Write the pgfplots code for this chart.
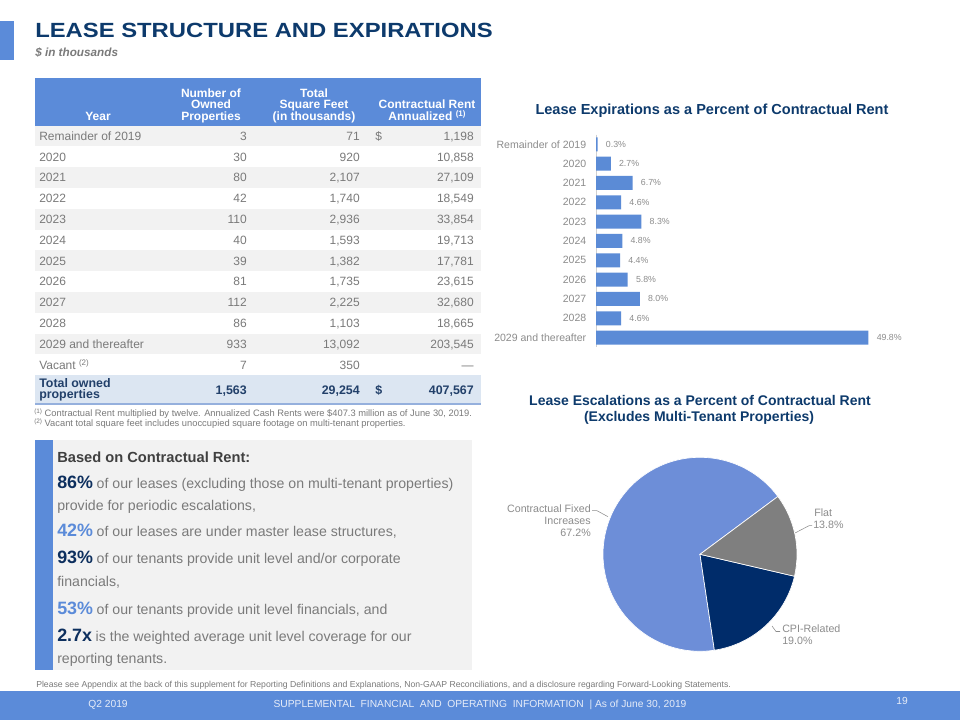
\documentclass[border=0pt]{standalone}
\usepackage{fontspec}
\setmainfont{Liberation Sans}
\newfontfamily\titlefont[FakeStretch=1.16]{Liberation Sans}
\usepackage{pgfplots}
\pgfplotsset{compat=1.18}
\definecolor{mainblue}{HTML}{5B8BD9}
\definecolor{barblue}{HTML}{5B8BD6}
\definecolor{piefixed}{HTML}{6D8ED8}
\definecolor{pienavy}{HTML}{002C6A}
\definecolor{piegray}{HTML}{7F7F7F}
\definecolor{titlenavy}{HTML}{0D3A6C}
\definecolor{tgray}{HTML}{7A7A7A}
\definecolor{lgray}{HTML}{8C8C8C}
\definecolor{rowgray}{HTML}{F2F2F2}
\definecolor{totalrow}{HTML}{DCE6F2}
\definecolor{totaltext}{HTML}{22406A}
\definecolor{dgray}{HTML}{404040}
\definecolor{bignavy}{HTML}{0D2F5E}
\definecolor{axisgray}{HTML}{D0D0D0}
\definecolor{foottext}{HTML}{E6ECF8}
\definecolor{tline}{HTML}{95B0DD}

\newcommand{\trow}[5]{%
  \pgfmathsetmacro\yc{136+20.8*#1}%
  \node[tb,anchor=west] at (39,\yc) {#2};%
  \node[tb,anchor=east] at (247,\yc) {#3};%
  \node[tb,anchor=east] at (360,\yc) {#4};%
  \node[tb,anchor=east] at (474,\yc) {#5};%
}

\begin{document}
\begin{tikzpicture}[
  tb/.style={font=\fontsize{9}{10}\selectfont, text=tgray, inner sep=0pt, text height=6.5pt, text depth=0pt},
  th/.style={font=\fontsize{9}{10}\selectfont\bfseries, text=white, inner sep=0pt, text height=6.5pt, text depth=0pt, anchor=center},
  bl/.style={anchor=base west, inner sep=0pt},
]
\begin{scope}[x=0.75pt,y=-0.75pt]
\fill[white] (0,0) rectangle (960,720);
% accent bar and title
\fill[mainblue] (0,21) rectangle (14,60);
\node[bl] at (35,37.3) {\titlefont\fontsize{15.4}{17}\selectfont\bfseries\color{titlenavy}LEASE STRUCTURE AND EXPIRATIONS};
\node[bl] at (35,56.5) {\fontsize{8.8}{10}\selectfont\bfseries\itshape\color{tgray}\$ in thousands};

% table header
\fill[mainblue] (35,78) rectangle (481,125.6);
\node[th] at (98,116) {Year};
\node[th] at (211,93) {Number of};
\node[th] at (211,104.5) {Owned};
\node[th] at (211,116) {Properties};
\node[th] at (314,93) {Total};
\node[th] at (314,104.5) {Square Feet};
\node[th] at (314,116) {(in thousands)};
\node[th] at (427,104.5) {Contractual Rent};
\node[th] at (427,116) {Annualized {\fontsize{6}{7}\selectfont\raisebox{2.5pt}{(1)}}};
% row shading
\foreach \i in {0,2,4,6,8,10} {
  \fill[rowgray] (35,{125.6+20.8*\i}) rectangle (481,{125.6+20.8*(\i+1)});
}
\fill[totalrow] (35,375.2) rectangle (481,404);
\draw[tline, line width=0.9pt] (35,404) -- (481,404);
\trow{0}{Remainder of 2019}{3}{71}{1,198}
\node[tb,anchor=west] at (375,136) {\$};
\trow{1}{2020}{30}{920}{10,858}
\trow{2}{2021}{80}{2,107}{27,109}
\trow{3}{2022}{42}{1,740}{18,549}
\trow{4}{2023}{110}{2,936}{33,854}
\trow{5}{2024}{40}{1,593}{19,713}
\trow{6}{2025}{39}{1,382}{17,781}
\trow{7}{2026}{81}{1,735}{23,615}
\trow{8}{2027}{112}{2,225}{32,680}
\trow{9}{2028}{86}{1,103}{18,665}
\trow{10}{2029 and thereafter}{933}{13,092}{203,545}
\trow{11}{Vacant {\fontsize{6}{7}\selectfont\raisebox{2.5pt}{(2)}}}{7}{350}{---}
% total row
\begin{scope}[every node/.style={font=\fontsize{9.3}{10}\selectfont\bfseries, text=totaltext, inner sep=0pt, text height=6.6pt, text depth=0pt}]
\node[anchor=west] at (39,382.7) {Total owned};
\node[anchor=west] at (39,394.3) {properties};
\node[anchor=east] at (247,390) {1,563};
\node[anchor=east] at (360,390) {29,254};
\node[anchor=west] at (375,390) {\$};
\node[anchor=east] at (474,390) {407,567};
\end{scope}
% footnotes
\node[bl] at (34,416) {\fontsize{7}{8}\selectfont\color{tgray}{\fontsize{4.8}{5}\selectfont\raisebox{2.2pt}{(1)}} Contractual Rent multiplied by twelve. Annualized Cash Rents were \$407.3 million as of June 30, 2019.};
\node[bl] at (34,426.5) {\fontsize{7}{8}\selectfont\color{tgray}{\fontsize{4.8}{5}\selectfont\raisebox{2.2pt}{(2)}} Vacant total square feet includes unoccupied square footage on multi-tenant properties.};

% text box
\fill[rowgray] (35,440) rectangle (472,670);
\fill[mainblue] (35,440) rectangle (52.5,670);
\node[bl] at (57,462.7) {\fontsize{11}{13}\selectfont\bfseries\color{dgray}Based on Contractual Rent:};
\node[bl] at (57,488.5) {{\fontsize{13.4}{15}\selectfont\bfseries\color{bignavy}86\%} {\fontsize{10.6}{12}\selectfont\color{tgray}of our leases (excluding those on multi-tenant properties)}};
\node[bl] at (57,510) {\fontsize{10.6}{12}\selectfont\color{tgray}provide for periodic escalations,};
\node[bl] at (57,536.7) {{\fontsize{13.4}{15}\selectfont\bfseries\color{mainblue}42\%} {\fontsize{10.6}{12}\selectfont\color{tgray}of our leases are under master lease structures,}};
\node[bl] at (57,563.5) {{\fontsize{13.4}{15}\selectfont\bfseries\color{bignavy}93\%} {\fontsize{10.6}{12}\selectfont\color{tgray}of our tenants provide unit level and/or corporate}};
\node[bl] at (57,586.7) {\fontsize{10.6}{12}\selectfont\color{tgray}financials,};
\node[bl] at (57,614) {{\fontsize{13.4}{15}\selectfont\bfseries\color{mainblue}53\%} {\fontsize{10.6}{12}\selectfont\color{tgray}of our tenants provide unit level financials, and}};
\node[bl] at (57,641.7) {{\fontsize{13.4}{15}\selectfont\bfseries\color{bignavy}2.7x} {\fontsize{10.6}{12}\selectfont\color{tgray}is the weighted average unit level coverage for our}};
\node[bl] at (57,663) {\fontsize{10.6}{12}\selectfont\color{tgray}reporting tenants.};

% disclaimer
\node[bl] at (36,687) {\fontsize{6.5}{7}\selectfont\color{tgray}Please see Appendix at the back of this supplement for Reporting Definitions and Explanations, Non-GAAP Reconciliations, and a disclosure regarding Forward-Looking Statements.};

% footer
\fill[mainblue] (0,691) rectangle (960,720);
\node[anchor=center,inner sep=0pt,text height=5.5pt,text depth=0pt] at (108,704) {\fontsize{7.7}{9}\selectfont\color{foottext}Q2 2019};
\node[anchor=center,inner sep=0pt,text height=5.5pt,text depth=0pt] at (480,704) {\fontsize{7.7}{9}\selectfont\color{foottext}SUPPLEMENTAL\ \ FINANCIAL\ \ AND\ \ OPERATING\ \ INFORMATION\ \ |\ As of June 30, 2019};
\node[anchor=center,inner sep=0pt,text height=5.5pt,text depth=0pt] at (902,701) {\fontsize{7.7}{9}\selectfont\color{foottext}19};

% chart titles
\node[anchor=base,inner sep=0pt] at (712,115) {\fontsize{10.9}{12}\selectfont\bfseries\color{titlenavy}Lease Expirations as a Percent of Contractual Rent};
\node[anchor=base,inner sep=0pt] at (700,405) {\fontsize{10.5}{12}\selectfont\bfseries\color{titlenavy}Lease Escalations as a Percent of Contractual Rent};
\node[anchor=base,inner sep=0pt] at (699,421) {\fontsize{10.5}{12}\selectfont\bfseries\color{titlenavy}(Excludes Multi-Tenant Properties)};

% pie labels
\begin{scope}[every node/.style={inner sep=0pt, font=\fontsize{8}{9}\selectfont, text=lgray}]
\node[anchor=base east] at (591,512) {Contractual Fixed};
\node[anchor=base east] at (591,524) {Increases};
\node[anchor=base east] at (591,536.5) {67.2\%};
\node[anchor=base west] at (814,516) {Flat};
\node[anchor=base west] at (813,528) {13.8\%};
\node[anchor=base west] at (782,632.5) {CPI-Related};
\node[anchor=base west] at (782,644.5) {19.0\%};
\end{scope}
\draw[lgray, line width=0.4pt] (592,510.7) -- (597,510.7) -- (608,516.7);
\draw[lgray, line width=0.4pt] (812,525.7) -- (809,525.7) -- (795,533);
\draw[lgray, line width=0.4pt] (780,631.5) -- (776,631.5) -- (772,626);

\coordinate (barNW) at (596,134.6);
\coordinate (pieC) at (700,554.3);
\end{scope}

% bar chart
\begin{axis}[
  at={(barNW)}, anchor=north west, scale only axis,
  width=225.7pt, height=159.5pt,
  xbar, bar width=10.5pt,
  xmin=0, xmax=55, ymin=-0.5, ymax=10.5, y dir=reverse,
  axis x line=none, axis y line=left,
  axis line style={-}, y axis line style={draw=axisgray, line width=0.6pt},
  ytick={0,...,10},
  yticklabels={Remainder of 2019,2020,2021,2022,2023,2024,2025,2026,2027,2028,2029 and thereafter},
  ytick style={draw=none},
  yticklabel style={font=\fontsize{7.9}{9}\selectfont, text=lgray, inner sep=0pt, xshift=-5pt},
  point meta=x,
  nodes near coords={\pgfmathprintnumber[fixed,fixed zerofill,precision=1,assume math mode=true]{\pgfplotspointmeta}\%},
  nodes near coords style={font=\fontsize{6.6}{8}\selectfont, text=lgray, anchor=west, inner sep=0pt, xshift=6pt},
  clip=false,
]
\addplot[fill=barblue, draw=none] coordinates {
  (0.3,0) (2.7,1) (6.7,2) (4.6,3) (8.3,4) (4.8,5) (4.4,6) (5.8,7) (8.0,8) (4.6,9) (49.8,10)
};
\end{axis}

% pie chart
\def\pFixed{67.2}
\def\pCPI{19.0}
\def\pFlat{13.8}
\pgfmathsetmacro\aA{36.6}
\pgfmathsetmacro\aB{\aA+3.6*\pFixed}
\pgfmathsetmacro\aC{\aB+3.6*\pCPI}
\pgfmathsetmacro\aD{\aC+3.6*\pFlat}
\begin{axis}[
  at={(pieC)}, anchor=center, scale only axis,
  width=145.5pt, height=145.5pt,
  xmin=-1, xmax=1, ymin=-1, ymax=1,
  hide axis, clip=false,
]
\fill[piefixed, draw=white, line width=0.5pt] (0,0) -- ({cos(\aA)},{sin(\aA)}) arc[start angle=\aA, end angle=\aB, radius=72.75pt] -- cycle;
\fill[pienavy, draw=white, line width=0.5pt] (0,0) -- ({cos(\aB)},{sin(\aB)}) arc[start angle=\aB, end angle=\aC, radius=72.75pt] -- cycle;
\fill[piegray, draw=white, line width=0.5pt] (0,0) -- ({cos(\aC)},{sin(\aC)}) arc[start angle=\aC, end angle=\aD, radius=72.75pt] -- cycle;
\end{axis}
\end{tikzpicture}
\end{document}
